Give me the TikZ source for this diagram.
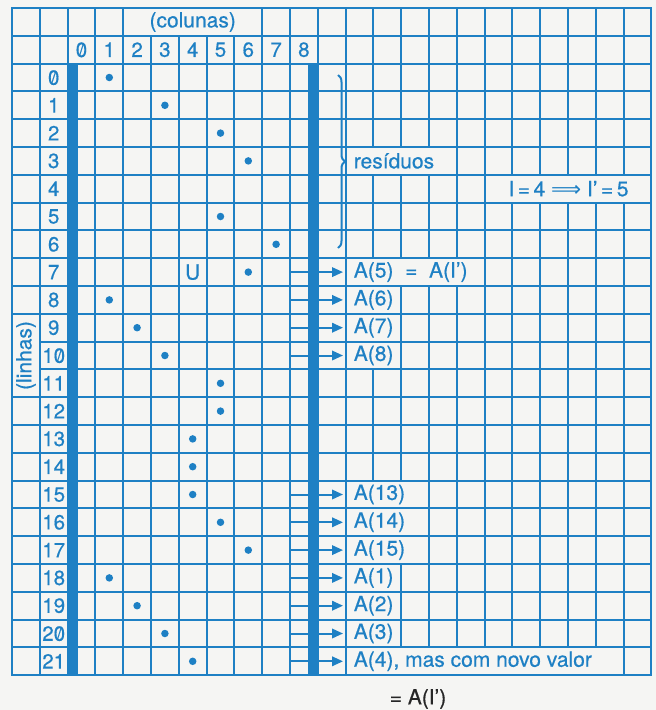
\documentclass[tikz,border=0pt]{standalone}
\usepackage{fontspec}
\setmainfont{TeX Gyre Heros}[FakeBold=0.5]
\newfontfamily\heavy{TeX Gyre Heros}[FakeBold=0.5]
\newfontfamily\arrowfont{DejaVu Sans}
\usepackage{graphicx}
\usetikzlibrary{arrows.meta,decorations.pathreplacing}
\definecolor{pblue}{RGB}{30,128,196}
\definecolor{paper}{RGB}{245,245,243}
\newcommand{\sz}{\ooalign{0\cr\hidewidth\raisebox{.08em}{\scalebox{.8}[.78]{/}}\hidewidth\cr}}
\newcommand{\mcell}[4]{\fill[paper] ({12+27.8*#1+1},{8+27.8*#3+1}) rectangle ({12+27.8*(#2+1)-1},{8+27.8*(#4+1)-1});}
\begin{document}
\begin{tikzpicture}[x=1pt,y=-1pt,
  gridline/.style={pblue,line width=2pt,line cap=rect},
  txt/.style={text=pblue,font=\heavy\fontsize{21}{25}\selectfont,inner sep=0pt},
  num/.style={text=pblue,font=\heavy\fontsize{20.5}{24}\selectfont,inner sep=0pt},
  lbl/.style={txt,anchor=west,inner xsep=8pt,inner ysep=0pt},
  dot/.style={circle,fill=pblue,inner sep=0pt,minimum size=7.5pt},
  arr/.style={pblue,line width=2pt,-{Triangle[length=11pt,width=9.5pt]},shorten >=2.6pt},
  wallbar/.style={fill=pblue}]
\useasboundingbox (0,0) rectangle (656,710);
\fill[paper] (0,0) rectangle (656,710);
% grid
\foreach \i in {0,...,23} \draw[gridline] ({12+27.8*\i},8) -- ({12+27.8*\i},675.2);
\foreach \j in {0,...,24} \draw[gridline] (12,{8+27.8*\j}) -- (651.4,{8+27.8*\j});
% merged cells
\mcell{4}{8}{0}{0}
\mcell{0}{0}{11}{13}
\mcell{12}{15}{5}{5}
\mcell{17}{22}{6}{6}
\mcell{12}{16}{9}{9}
\foreach \r in {10,11,12} {\mcell{12}{13}{\r}{\r}}
\foreach \r in {17,18,19} {\mcell{12}{14}{\r}{\r}}
\foreach \r in {20,21,22} {\mcell{12}{13}{\r}{\r}}
\mcell{12}{21}{23}{23}
% headers
\node[txt] (colunas) at (192.7,22) {(colunas)};
\node[num] (c0) at ({12+27.8*2.5},49.7) {\sz};
\foreach \k in {1,...,8} \node[num] (c\k) at ({12+27.8*(\k+2.5)},49.7) {\k};
\node[num] (r0) at (53.7,{8+27.8*2.5}) {\sz};
\node[num] (r10) at (53.7,{8+27.8*12.5}) {1\sz};
\node[num] (r20) at (53.7,{8+27.8*22.5}) {2\sz};
\foreach \k in {1,...,9,11,12,...,19,21} \node[num] (r\k) at (53.7,{8+27.8*(\k+2.5)}) {\k};
\node[txt,rotate=90] (linhas) at (26,355.5) {(linhas)};
% walls
\fill[wallbar] (67.6,63.6) rectangle (77.8,675.2);
\fill[wallbar] (308,63.6) rectangle (318,675.2);
% dots
\foreach \r/\c in {0/1,1/3,2/5,3/6,5/5,6/7,7/6,8/1,9/2,10/3,11/5,12/5,13/4,14/4,15/4,16/5,17/6,18/1,19/2,20/3,21/4}
  \node[dot] (d\r) at ({12+27.8*(\c+2.5)},{8+27.8*(\r+2.5)}) {};
\node[txt] (U) at ({12+27.8*6.5},{8+27.8*9.5}) {U};
% labels
\node[lbl] (res) at (345.6,{8+27.8*5.5}) {resíduos};
\node[txt] (rule) at (568.5,{8+27.8*6.5}) {I\,=\,4 {\arrowfont ⟹} I’\,=\,5};
\foreach \r/\t in {7/{A(5)~~=~~A(I’)},8/A(6),9/A(7),10/A(8),15/A(13),16/A(14),17/A(15),18/A(1),19/A(2),20/A(3),21/{A(4), mas com novo valor}} {
  \coordinate (s\r) at (290.2,{8+27.8*(\r+2.5)});
  \node[lbl] (l\r) at (345.6,{8+27.8*(\r+2.5)}) {\t};
  \draw[arr] (s\r) -- (l\r.west);
}
% brace
\draw[pblue,line width=2pt,decorate,decoration={brace,amplitude=7pt}] (338,75) -- (338,248);
\node[font=\heavy\fontsize{21}{25}\selectfont,text=black!85,inner sep=0pt] (eq) at (418,699) {=~A(I’)};
\end{tikzpicture}
\end{document}
